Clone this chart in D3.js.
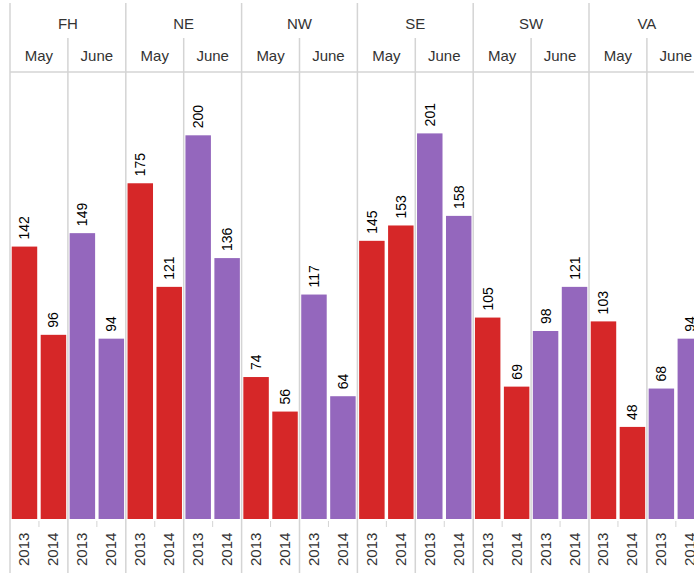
<!DOCTYPE html>
<html>
<head>
<meta charset="utf-8">
<script src="https://cdn.jsdelivr.net/npm/d3@7"></script>
<style>
  html, body { margin: 0; padding: 0; background: #fff; }
  svg { display: block; font-family: "Liberation Sans", Arial, sans-serif; }
</style>
</head>
<body>
<svg id="chart" width="694" height="573"></svg>
<script>
const regions = ["FH", "NE", "NW", "SE", "SW", "VA"];
const months = ["May", "June"];
const years = ["2013", "2014"];
const may2013  = [142, 175, 74, 145, 105, 103];
const may2014  = [96, 121, 56, 153, 69, 48];
const june2013 = [149, 200, 117, 201, 98, 68];
const june2014 = [94, 136, 64, 158, 121, 94];
const monthColors = ["#d62728", "#9467bd"];

const data = [];
regions.forEach((r, i) => {
  data.push({region: r, month: "May", year: "2013", value: may2013[i]});
  data.push({region: r, month: "May", year: "2014", value: may2014[i]});
  data.push({region: r, month: "June", year: "2013", value: june2013[i]});
  data.push({region: r, month: "June", year: "2014", value: june2014[i]});
});

const svg = d3.select("#chart");
const left = 10, groupW = 115.8;
const x0 = d3.scaleBand().domain(regions).range([left, left + groupW * regions.length]);
const x1 = d3.scaleBand().domain(months).range([0, x0.bandwidth()]);
const x2 = d3.scaleBand().domain(years).range([0, x1.bandwidth()]).paddingInner(0.12).paddingOuter(0.06);
const xs = d3.scaleBand().domain(years).range([0, x1.bandwidth()]);
const color = d3.scaleOrdinal().domain(months).range(monthColors);

const yTop = 72, yBase = 519;
const y = d3.scaleLinear().domain([0, 233]).range([yBase, yTop]);

const lineColor = "#d4d4d4";
const textColor = "#333";

svg.append("line").attr("x1", left).attr("x2", 694).attr("y1", yTop).attr("y2", yTop)
  .attr("stroke", lineColor).attr("stroke-width", 1.5);

svg.selectAll(".rline").data(regions).join("line")
  .attr("x1", d => x0(d)).attr("x2", d => x0(d))
  .attr("y1", 3).attr("y2", 573)
  .attr("stroke", lineColor).attr("stroke-width", 1.5);
svg.selectAll(".mline").data(regions).join("line")
  .attr("x1", d => x0(d) + x1("June")).attr("x2", d => x0(d) + x1("June"))
  .attr("y1", 38).attr("y2", 573)
  .attr("stroke", lineColor).attr("stroke-width", 1.5);
const yearTicks = [];
regions.forEach(r => months.forEach(m => yearTicks.push(x0(r) + x1(m) + xs("2014"))));
svg.selectAll(".yt").data(yearTicks).join("line")
  .attr("x1", d => d).attr("x2", d => d).attr("y1", 521).attr("y2", 527)
  .attr("stroke", lineColor).attr("stroke-width", 1);

svg.selectAll(".rlab").data(regions).join("text")
  .attr("x", d => x0(d) + x0.bandwidth() / 2).attr("y", 29)
  .attr("text-anchor", "middle").attr("font-size", 15).attr("fill", textColor)
  .text(d => d);
const monthLabels = [];
regions.forEach(r => months.forEach(m => monthLabels.push({r, m})));
svg.selectAll(".mlab").data(monthLabels).join("text")
  .attr("x", d => x0(d.r) + x1(d.m) + x1.bandwidth() / 2).attr("y", 61)
  .attr("text-anchor", "middle").attr("font-size", 15).attr("fill", textColor)
  .text(d => d.m);

svg.selectAll(".bar").data(data).join("rect")
  .attr("x", d => x0(d.region) + x1(d.month) + x2(d.year))
  .attr("width", x2.bandwidth())
  .attr("y", d => y(d.value))
  .attr("height", d => y(0) - y(d.value))
  .attr("fill", d => color(d.month));

svg.selectAll(".vlab").data(data).join("text")
  .attr("transform", d => {
    const cx = x0(d.region) + x1(d.month) + x2(d.year) + x2.bandwidth() / 2;
    return `translate(${cx + 5},${y(d.value) - 7}) rotate(-90)`;
  })
  .attr("font-size", 14).attr("fill", "#000")
  .text(d => d.value);

svg.selectAll(".ylab").data(data).join("text")
  .attr("transform", d => {
    const cx = x0(d.region) + x1(d.month) + x2(d.year) + x2.bandwidth() / 2;
    return `translate(${cx + 5},${566}) rotate(-90)`;
  })
  .attr("font-size", 15).attr("fill", textColor)
  .text(d => d.year);
</script>
</body>
</html>
